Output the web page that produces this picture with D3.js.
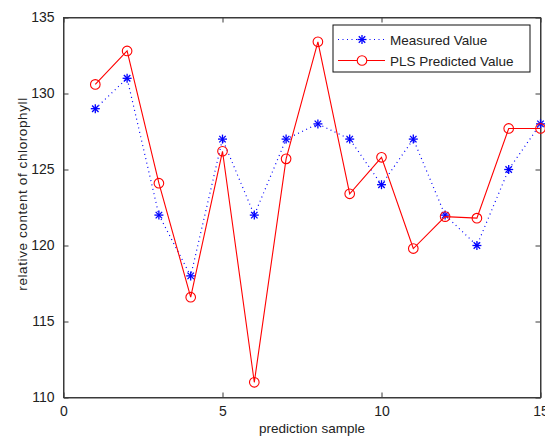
<!DOCTYPE html>
<html>
<head>
<meta charset="utf-8">
<script src="https://cdn.jsdelivr.net/npm/d3@7"></script>
<style>
    body { margin: 0; background: #fff; }
    text { font-family: 'Liberation Sans', Arial, sans-serif; fill: #222; }
</style>
</head>
<body>
<div id="box-div"></div>
<script>
// 数据
const samples = d3.range(1, 16)
const measured = [129, 131, 122, 118, 127, 122, 127, 128, 127, 124, 127, 122, 120, 125, 128]
const predicted = [130.6, 132.8, 124.1, 116.6, 126.2, 111.0, 125.7, 133.4, 123.4, 125.8, 119.8, 121.9, 121.8, 127.7, 127.7]
const xTicks = [0, 5, 10, 15]
const yTicks = [110, 115, 120, 125, 130, 135]
const seriesNames = ['Measured Value', 'PLS Predicted Value']

let dms = {
    width: 545,
    height: 440,
    margin: { top: 17.5, right: 4.5, bottom: 42.5, left: 63.5 }
}
dms.chartWidth = dms.width - dms.margin.left - dms.margin.right
dms.chartHeight = dms.height - dms.margin.top - dms.margin.bottom

const box = d3.select('#box-div').append('svg')
    .attr('width', dms.width)
    .attr('height', dms.height)

const content = box.append('g')
    .attr('transform', `translate(${dms.margin.left}, ${dms.margin.top})`)

// 比例尺
const xScale = d3.scaleLinear().domain([0, 15]).range([0, dms.chartWidth])
const yScale = d3.scaleLinear().domain([110, 135]).range([dms.chartHeight, 0])

const axisColor = '#3a3a3a'

// 坐标轴 (刻度向内)
const xAxis = d3.axisBottom(xScale).tickValues(xTicks).tickSize(-5).tickSizeOuter(0).tickPadding(9)
const yAxis = d3.axisLeft(yScale).tickValues(yTicks).tickSize(-5).tickSizeOuter(0).tickPadding(9)

const gx = content.append('g')
    .attr('class', 'axis-x')
    .attr('transform', `translate(0, ${dms.chartHeight})`)
    .call(xAxis)
const gy = content.append('g')
    .attr('class', 'axis-y')
    .call(yAxis)
// 顶部与右侧刻度
content.append('g')
    .call(d3.axisTop(xScale).tickValues(xTicks).tickSize(-5).tickSizeOuter(0).tickFormat(''))
content.append('g')
    .attr('transform', `translate(${dms.chartWidth}, 0)`)
    .call(d3.axisRight(yScale).tickValues(yTicks).tickSize(-5).tickSizeOuter(0).tickFormat(''))

content.selectAll('.domain').attr('stroke', axisColor)
content.selectAll('.tick line').attr('stroke', axisColor)
content.selectAll('.tick text')
    .style('font-size', '14px')
    .style('font-family', "'Liberation Sans', Arial, sans-serif")
    .attr('fill', '#222')

// 边框
content.append('rect')
    .attr('width', dms.chartWidth)
    .attr('height', dms.chartHeight)
    .attr('fill', 'none')
    .attr('stroke', axisColor)
    .attr('stroke-width', 1)

const line = d3.line()
    .x((d, i) => xScale(samples[i]))
    .y(d => yScale(d))

// 星号标记
const star = (g, r) => {
    const d = r * 0.72
    g.append('line').attr('x1', -r).attr('x2', r).attr('y1', 0).attr('y2', 0)
    g.append('line').attr('x1', 0).attr('x2', 0).attr('y1', -r).attr('y2', r)
    g.append('line').attr('x1', -d).attr('x2', d).attr('y1', -d).attr('y2', d)
    g.append('line').attr('x1', -d).attr('x2', d).attr('y1', d).attr('y2', -d)
    g.selectAll('line').attr('stroke', '#0000ff').attr('stroke-width', 1.3)
}

// 测量值
content.append('path')
    .datum(measured)
    .attr('d', line)
    .attr('fill', 'none')
    .attr('stroke', '#0000ff')
    .attr('stroke-width', 1.2)
    .attr('stroke-dasharray', '1,3.5')

content.selectAll('.star')
    .data(measured)
    .enter()
    .append('g')
    .attr('class', 'star')
    .attr('transform', (d, i) => `translate(${xScale(samples[i])}, ${yScale(d)})`)
    .each(function () { star(d3.select(this), 4.5) })

// 预测值
content.append('path')
    .datum(predicted)
    .attr('d', line)
    .attr('fill', 'none')
    .attr('stroke', '#ff0000')
    .attr('stroke-width', 1.1)

content.selectAll('.circ')
    .data(predicted)
    .enter()
    .append('circle')
    .attr('class', 'circ')
    .attr('cx', (d, i) => xScale(samples[i]))
    .attr('cy', d => yScale(d))
    .attr('r', 4.8)
    .attr('fill', 'none')
    .attr('stroke', '#ff0000')
    .attr('stroke-width', 1.1)

// 轴标题
box.append('text')
    .attr('x', 312)
    .attr('y', 433)
    .attr('text-anchor', 'middle')
    .style('font-size', '13.5px')
    .text('prediction sample')
box.append('text')
    .attr('transform', 'translate(27, 194) rotate(-90)')
    .attr('text-anchor', 'middle')
    .style('font-size', '13.5px')
    .style('letter-spacing', '0.6px')
    .text('relative content of chlorophyll')

// 图例
const legend = box.append('g').attr('transform', 'translate(333, 25)')
legend.append('rect')
    .attr('width', 197)
    .attr('height', 47)
    .attr('fill', '#fff')
    .attr('stroke', '#111')
    .attr('stroke-width', 1)

const rows = legend.selectAll('.legend')
    .data(seriesNames)
    .enter()
    .append('g')
    .attr('class', 'legend')
    .attr('transform', (d, i) => `translate(0, ${14.5 + i * 21})`)

rows.append('line')
    .attr('x1', 5).attr('x2', 52)
    .attr('stroke', (d, i) => i === 0 ? '#0000ff' : '#ff0000')
    .attr('stroke-width', (d, i) => i === 0 ? 1.2 : 1.1)
    .attr('stroke-dasharray', (d, i) => i === 0 ? '1,3.5' : null)

rows.filter((d, i) => i === 0).append('g')
    .attr('transform', 'translate(29, 0)')
    .each(function () { star(d3.select(this), 4.5) })
rows.filter((d, i) => i === 1).append('circle')
    .attr('cx', 29).attr('r', 4.8)
    .attr('fill', '#fff')
    .attr('stroke', '#ff0000')
    .attr('stroke-width', 1.1)

rows.append('text')
    .attr('x', 57)
    .attr('y', 5)
    .style('font-size', '13.5px')
    .text(d => d)
</script>
</body>
</html>
